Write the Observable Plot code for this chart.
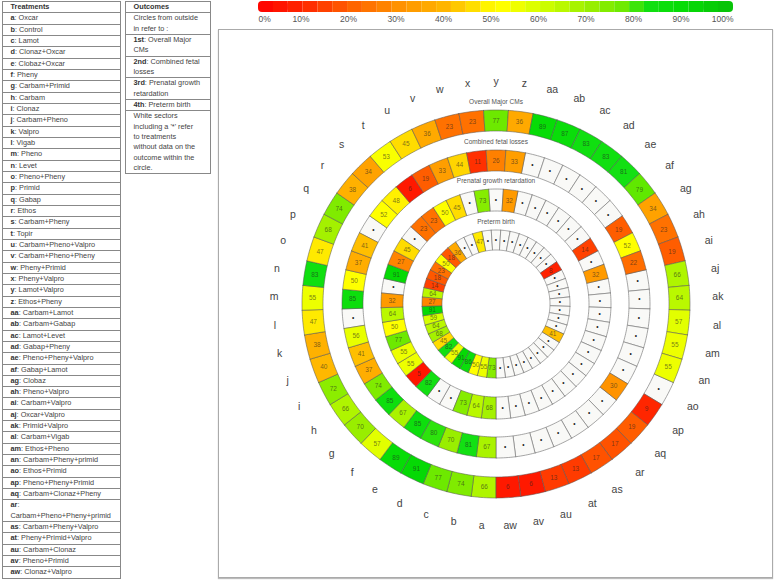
<!DOCTYPE html>
<html><head><meta charset="utf-8">
<script src="https://cdn.jsdelivr.net/npm/d3@7"></script>
<script src="https://cdn.jsdelivr.net/npm/@observablehq/plot@0.6"></script>
<style>
html,body{margin:0;padding:0;background:#fff;width:778px;height:581px;overflow:hidden;font-family:"Liberation Sans",Arial,sans-serif}
#frame{position:absolute;left:217.5px;top:29px;width:553.5px;height:546.5px;border:1.5px solid #aaa;box-shadow:0 1px 1px #bbb}
#legend,#chart{position:absolute;left:0;top:0}
.tbl{position:absolute;top:1px;border:1px solid #888;border-bottom:none;box-sizing:border-box;font-size:7.3px;line-height:10.33px;color:#444}
.tbl div{border-bottom:1px solid #888;box-sizing:content-box;padding-left:7.5px}
.tbl b{color:#333}
svg text{font-family:"Liberation Sans",Arial,sans-serif}
</style></head><body>
<div id="frame"></div><div id="legend"></div><div id="chart"></div>
<div class="tbl" id="treat" style="left:2px;width:118.5px"></div>
<div class="tbl" id="out" style="left:125px;width:86px"></div>
<script>
const codes = ["a","b","c","d","e","f","g","h","i","j","k","l","m","n","o","p","q","r","s","t","u","v","w","x","y","z","aa","ab","ac","ad","ae","af","ag","ah","ai","aj","ak","al","am","an","ao","ap","aq","ar","as","at","au","av","aw"];
const treatments = ["Oxcar","Control","Lamot","Clonaz+Oxcar","Clobaz+Oxcar","Pheny","Carbam+Primid","Carbam","Clonaz","Carbam+Pheno","Valpro","Vigab","Pheno","Levet","Pheno+Pheny","Primid","Gabap","Ethos","Carbam+Pheny","Topir","Carbam+Pheno+Valpro","Carbam+Pheno+Pheny","Pheny+Primid","Pheny+Valpro","Lamot+Valpro","Ethos+Pheny","Carbam+Lamot","Carbam+Gabap","Lamot+Levet","Gabap+Pheny","Pheno+Pheny+Valpro","Gabap+Lamot","Clobaz","Pheno+Valpro","Carbam+Valpro","Oxcar+Valpro","Primid+Valpro","Carbam+Vigab","Ethos+Pheno","Carbam+Pheny+primid","Ethos+Primid","Pheno+Pheny+Primid","Carbam+Clonaz+Pheny","Carbam+Pheno+Pheny+primid","Carbam+Pheny+Valpro","Pheny+Primid+Valpro","Carbam+Clonaz","Pheno+Primid","Clonaz+Valpro"];
const _ = null;
const overallCMs = [66,74,77,91,89,57,70,66,72,40,38,47,55,83,47,68,74,38,34,53,45,36,23,23,77,36,89,87,83,83,81,79,34,23,19,66,64,57,55,55,_,9,19,17,17,13,13,6,6];
const fetalLosses = [67,81,70,80,85,67,85,74,37,41,56,_,85,50,37,41,_,52,48,6,19,33,44,11,26,33,_,_,_,_,_,_,19,52,22,_,_,_,_,_,_,30,_,_,_,_,_,_,_];
const growthRetard = [68,64,73,_,_,82,5,55,55,77,50,64,32,_,91,27,45,_,23,23,50,45,_,73,_,32,_,_,_,_,_,_,14,_,32,_,_,_,_,_,_,_,_,_,_,_,_,_,_];
const pretermBirth = [73,55,50,86,91,55,82,45,68,64,59,91,27,64,14,18,23,50,18,36,_,_,47,_,_,_,_,_,_,_,_,_,8,_,_,_,_,_,_,_,41,_,_,_,_,_,_,_,_];
const ringTitles = ["Overall Major CMs","Combined fetal losses","Prenatal growth retardation","Preterm birth"];
const legendTicks = [0,10,20,30,40,50,60,70,80,90,100];
const outcomes = [["Outcomes",""],["","Circles from outside<br>in refer to :"],["1st","Overall Major<br>CMs"],["2nd","Combined fetal<br>losses"],["3rd","Prenatal growth<br>retardation"],["4th","Preterm birth"],["","White sectors<br>including a '*' refer<br>to treatments<br>without data on the<br>outcome within the<br>circle."]];

const colorScale = {
  type:"linear",
  domain:[0,10,20,30,40,45,50,52,60,70,79,80.5,90,100],
  range:["#ff0000","#ff2a00","#ff6300","#ff9300","#ffb800","#ffdc00","#ffff00","#ffff00","#d0ff00","#99ee00","#60e800","#14e014","#05dc05","#08c008"]
};

// geometry of the rings
const rings = [
  {vals:overallCMs, r0:173, r1:194},
  {vals:fetalLosses, r0:133, r1:154},
  {vals:growthRetard, r0:93, r1:115},
  {vals:pretermBirth, r0:54, r1:74}
];
const step = 360/codes.length, rad = Math.PI/180;
const polar = (r,a)=>({x:r*Math.sin(a*rad), y:-r*Math.cos(a*rad)});
const outline = [], cells = [];
rings.forEach((ring,k)=>{
  ring.vals.forEach((v,i)=>{
    const a0 = 180+i*step, a1 = a0+step;
    const arc = d3.range(0,9).map(t=>a0+(a1-a0)*t/8);
    const pts = [...arc.map(a=>polar(ring.r1,a)), ...arc.slice().reverse().map(a=>polar(ring.r0,a))];
    pts.push(pts[0]);
    pts.forEach(p=>outline.push({...p,id:k+"-"+i,v}));
    cells.push({...polar((ring.r0+ring.r1)/2,(a0+a1)/2),v});
  });
});
const labels = codes.map((c,i)=>({...polar(222,180+(i+.5)*step),c}));
const titles = ringTitles.map((t,k)=>({t,x:0,y:-(rings[k].r1+8.5)}));

document.getElementById("chart").append(Plot.plot({
  width:778,height:581,margin:0,
  x:{domain:[-495.5,282.5],range:[0,778],axis:null},
  y:{domain:[-303.5,277.5],range:[0,581],axis:null},
  color:colorScale,
  style:{background:"transparent"},
  marks:[
    Plot.line(outline.filter(d=>d.v===null),{x:"x",y:"y",z:"id",fill:"#f9f9f7",stroke:"#808080",strokeWidth:.7,curve:"linear"}),
    Plot.line(outline.filter(d=>d.v!==null),{x:"x",y:"y",z:"id",fill:"v",stroke:"#555",strokeOpacity:.75,strokeWidth:.7,curve:"linear"}),
    Plot.text(cells.filter(d=>d.v!==null),{x:"x",y:"y",text:d=>String(d.v),fontSize:6.5,fill:"#222",fillOpacity:.6}),
    Plot.text(cells.filter(d=>d.v===null),{x:"x",y:"y",text:()=>"•",fontSize:6.5,fill:"#222"}),
    Plot.text(labels,{x:"x",y:"y",text:"c",fontSize:10.5,fill:"#444"}),
    Plot.text(titles,{x:"x",y:"y",text:"t",fontSize:6.5,fill:"#555"})
  ]
}));

// colour bar, on its own 0-100 scale
const nBins = 32, binW = 100/nBins;
const bins = d3.range(nBins).map(i=>({x1:i*binW,x2:(i+1)*binW,v:(i+.5)*binW}));
const ends = [{x1:0,x2:2*binW,v:bins[0].v},{x1:100-2*binW,x2:100,v:bins[nBins-1].v}];
document.getElementById("legend").append(Plot.plot({
  width:778,height:28,margin:0,
  x:{domain:[0,100],range:[258,733],axis:null},
  y:{domain:[0,28],range:[0,28],axis:null},
  color:colorScale,
  marks:[
    Plot.rect(ends,{x1:"x1",x2:"x2",y1:1,y2:12,fill:"v",rx:4}),
    Plot.rect(bins.slice(1,-1),{x1:"x1",x2:"x2",y1:1,y2:12,fill:"v"}),
    Plot.text(legendTicks.filter(t=>t>0&&t<100),{x:d=>d,y:19,text:d=>d+"%",dx:-5,fontSize:8.5,fill:"#555"}),
    Plot.text([0],{x:d=>d,y:19,text:d=>d+"%",textAnchor:"start",fontSize:8.5,fill:"#555"}),
    Plot.text([100],{x:d=>d,y:19,text:d=>d+"%",textAnchor:"end",fontSize:8.5,fill:"#555"})
  ]
}));

// side tables
const treat = document.getElementById("treat");
treat.innerHTML = "<div><b>Treatments</b></div>"+codes.map((c,i)=>{
  const brk = treatments[i].length>22 ? "<br>" : " ";
  return `<div><b>${c}</b>:${brk}${treatments[i]}</div>`;
}).join("");
document.getElementById("out").innerHTML = outcomes.map(([a,b])=>`<div>${a?`<b>${a}</b>`:""}${a&&b?": ":""}${b}</div>`).join("");
</script>
</body></html>
